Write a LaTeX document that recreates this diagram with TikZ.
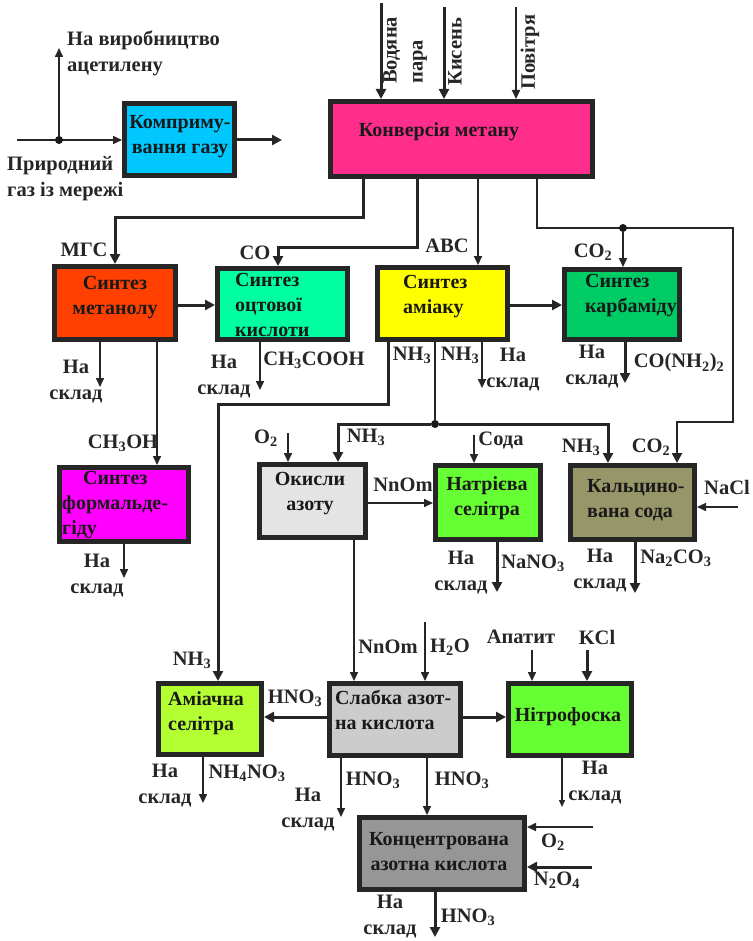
\documentclass[tikz,border=0pt]{standalone}
\usepackage{fontspec}
\setmainfont{Liberation Serif}
\usetikzlibrary{arrows.meta,fit}
\newcommand{\lsub}[1]{\textsubscript{#1}}
\definecolor{ckomp}{RGB}{0,200,255}
\definecolor{ckonv}{RGB}{255,45,140}
\definecolor{cmeth}{RGB}{255,64,0}
\definecolor{cacet}{RGB}{0,255,160}
\definecolor{camm}{RGB}{255,255,0}
\definecolor{ccarb}{RGB}{0,204,102}
\definecolor{cform}{RGB}{255,0,255}
\definecolor{cokis}{RGB}{228,228,228}
\definecolor{cnatr}{RGB}{102,255,51}
\definecolor{ckalc}{RGB}{150,150,105}
\definecolor{camsel}{RGB}{180,255,50}
\definecolor{cslab}{RGB}{204,204,204}
\definecolor{cnitro}{RGB}{102,255,51}
\definecolor{ckonc}{RGB}{150,150,150}
\begin{document}
\begin{tikzpicture}[x=1pt,y=-1pt,
 box/.style={draw=black!85, line width=5pt, inner sep=0pt},
 btxt/.style={font=\fontsize{20}{25}\selectfont\bfseries, inner sep=0pt, text=black!90},
 lbl/.style={font=\fontsize{20.5}{26}\selectfont\bfseries, inner sep=0pt, text=black!85, align=center},
 thn/.style={line width=1.6pt, draw=black!85, -{Triangle[length=9pt,width=8pt]}},
 thk/.style={line width=3pt, draw=black!85, -{Triangle[length=10pt,width=10pt]}},
 lnk/.style={line width=3pt, draw=black!85},
 dot/.style={circle, fill=black!90, inner sep=0pt, minimum size=8pt}
]
\useasboundingbox[fill=white] (0,0) rectangle (752,941);

% boxes
\node[box, fill=ckomp, fit={(124.5,103.5) (234.5,175.5)}] (komp) {};
\node[box, fill=ckonv, fit={(330.5,101.5) (592.5,176.5)}] (konv) {};
\node[box, fill=cmeth, fit={(54.5,266.5) (175.5,339.5)}] (meth) {};
\node[box, fill=cacet, fit={(217.5,268.5) (347.5,339.5)}] (acet) {};
\node[box, fill=camm, fit={(377.5,267.5) (507.5,339.5)}] (amm) {};
\node[box, fill=ccarb, fit={(564.5,269.5) (679.5,339.5)}] (carb) {};
\node[box, fill=cform, fit={(59.5,467.5) (188.5,541.5)}] (form) {};
\node[box, fill=cokis, fit={(259.5,464.5) (365.5,537.5)}] (okis) {};
\node[box, fill=cnatr, fit={(435.5,465.5) (540.5,539.5)}] (natr) {};
\node[box, fill=ckalc, fit={(570.5,465.5) (694.5,539.5)}] (kalc) {};
\node[box, fill=camsel, fit={(158.5,683.5) (261.5,754.5)}] (amsel) {};
\node[box, fill=cslab, fit={(329.5,683.5) (460.5,755.5)}] (slab) {};
\node[box, fill=cnitro, fit={(508.5,683.5) (631.5,755.5)}] (nitro) {};
\node[box, fill=ckonc, fit={(359.5,817.5) (524.5,889.5)}] (konc) {};

% box texts
\node[btxt, align=center] (tkomp) at (180,137) {Комприму-\\вання газу};
\node[btxt] (tkonv) at (439,132) {Конверсія метану};
\node[btxt, align=center] (tmeth) at (115,298) {Синтез\\метанолу};
\node[btxt, align=left, anchor=west] (tacet) at (235,305) {Синтез\\оцтової\\кислоти};
\node[btxt, align=left, anchor=west] (tamm) at (403,297) {Синтез\\аміаку};
\node[btxt, align=left, anchor=west] (tcarb) at (585,296) {Синтез\\карбаміду};
\node[btxt, align=left, anchor=west] (tform) at (62,505) {\hspace*{21pt}Синтез\\формальде-\\гіду};
\node[btxt, align=center] (tokis) at (310,494) {Окисли\\азоту};
\node[btxt, align=center] (tnatr) at (487,498) {Натрієва\\селітра};
\node[btxt, align=left, anchor=west] (tkalc) at (587,500) {Кальцино-\\вана сода};
\node[btxt, align=left, anchor=west] (tamsel) at (168,713) {Аміачна\\селітра};
\node[btxt, align=left, anchor=west] (tslab) at (335,710) {Слабка азот-\\на кислота};
\node[btxt] (tnitro) at (568,717) {Нітрофоска};
\node[btxt, align=center] (tkonc) at (439,852) {Концентрована\\азотна кислота};

% free ends
\coordinate (gin) at (17,140);
\coordinate (gbr) at (59,140);
\coordinate (gup) at (59,48);
\coordinate (kout) at (282,140);
\coordinate (inA) at (381,3);
\coordinate (inB) at (444,7);
\coordinate (inC) at (516,7);
\coordinate (s1) at (100,387);
\coordinate (s2) at (124,578);
\coordinate (s3) at (260,390);
\coordinate (s4) at (482,388);
\coordinate (s5) at (625,383);
\coordinate (o2a) at (288,433);
\coordinate (soda) at (474,435);
\coordinate (nacl) at (738,507);
\coordinate (s6) at (497,592);
\coordinate (s7) at (635,593);
\coordinate (h2o) at (425,622);
\coordinate (apat) at (532,650);
\coordinate (kcl) at (587,650);
\coordinate (s8) at (203,803);
\coordinate (s9) at (341,817);
\coordinate (s10) at (562,807);
\coordinate (o2b) at (593,827);
\coordinate (n2o4) at (592,867);
\coordinate (s11) at (435,937);

% connectors
\draw[thn] (gin) -- (komp.west |- gin);
\draw[thn] (gbr) -- (gup);
\node[dot] (dbr) at (gbr) {};
\draw[thk] (komp.east |- kout) -- (kout);
\draw[thk] (inA) -- (konv.north -| inA);
\draw[thk] (inB) -- (konv.north -| inB);
\draw[thn, line width=2pt] (inC) -- (konv.north -| inC);
\draw[thk] (konv.south -| 363,0) |- (115,218) -- (meth.north -| 115,0);
\draw[thk] (konv.south -| 417,0) |- (278,247) -- (acet.north -| 278,0);
\draw[thn, line width=2pt] (konv.south -| 478,0) -- (amm.north -| 478,0);
\draw[thk, line width=2.5pt] (konv.south -| 537,0) |- (733,228) |- (677,422) -- (kalc.north -| 677,0);
\node[dot] (dco2) at (623,228) {};
\draw[thn] (dco2) -- (carb.north -| dco2);
\draw[thk] (meth.east |- 0,305) -- (acet.west |- 0,305);
\draw[thn] (meth.south -| s1) -- (s1);
\draw[thn] (meth.south -| 157,0) -- (form.north -| 157,0);
\draw[thn] (form.south -| s2) -- (s2);
\draw[thn] (acet.south -| s3) -- (s3);
\draw[thk] (amm.south -| 388,0) |- (218,404) -- (amsel.north -| 218,0);
\node[dot] (dnh) at (435,424) {};
\draw[lnk, line width=2pt] (amm.south -| dnh) -- (dnh);
\draw[thk] (dnh) -| (okis.north -| 338,0);
\draw[thk] (dnh) -| (kalc.north -| 608,0);
\draw[thn] (amm.south -| s4) -- (s4);
\draw[thk] (amm.east |- 0,305) -- (carb.west |- 0,305);
\draw[thk] (carb.south -| s5) -- (s5);
\draw[thn] (o2a) -- (okis.north -| o2a);
\draw[thn] (soda) -- (natr.north -| soda);
\draw[thn] (okis.east |- 0,503) -- (natr.west |- 0,503);
\draw[thn] (nacl) -- (kalc.east |- nacl);
\draw[thk] (natr.south -| s6) -- (s6);
\draw[thk] (kalc.south -| s7) -- (s7);
\draw[thn] (okis.south -| 354,0) -- (slab.north -| 354,0);
\draw[thn] (h2o) -- (slab.north -| h2o);
\draw[thk] (slab.west |- 0,717) -- (amsel.east |- 0,717);
\draw[thk] (slab.east |- 0,717) -- (nitro.west |- 0,717);
\draw[thn] (apat) -- (nitro.north -| apat);
\draw[thk] (kcl) -- (nitro.north -| kcl);
\draw[thn] (amsel.south -| s8) -- (s8);
\draw[thn] (slab.south -| s9) -- (s9);
\draw[thn] (slab.south -| 427,0) -- (konc.north -| 427,0);
\draw[thn, line width=1.2pt, -{Triangle[length=7pt,width=6pt]}] (nitro.south -| s10) -- (s10);
\draw[thn] (o2b) -- (konc.east |- o2b);
\draw[thk] (n2o4) -- (konc.east |- n2o4);
\draw[thk] (konc.south -| s11) -- (s11);

% labels
\node[lbl, align=left, anchor=west] (lacet) at (67,53) {На виробництво\\ацетилену};
\node[lbl, align=left, anchor=west] (lgas) at (7,179) {Природний\\газ із мережі};
\node[lbl, rotate=90, anchor=west, align=left] (lvp) at (405,84) {Водяна\\пара};
\node[lbl, rotate=90, anchor=west] (lkis) at (455,86) {Кисень};
\node[lbl, rotate=90, anchor=west] (lpov) at (530,90) {Повітря};
\node[lbl] (lmgs) at (84,250) {МГС};
\node[lbl] (lco) at (255,253) {CO};
\node[lbl] (labc) at (447,246) {АВС};
\node[lbl] (lco2a) at (593,252) {CO\lsub{2}};
\node[lbl] (ln1) at (76,382) {На\\склад};
\node[lbl] (ln2) at (224,377) {На\\склад};
\node[lbl] (ln3) at (97,576) {На\\склад};
\node[lbl] (ln4) at (513,370) {На\\склад};
\node[lbl] (ln5) at (592,367) {На\\склад};
\node[lbl] (ln6) at (461,573) {На\\склад};
\node[lbl] (ln7) at (600,571) {На\\склад};
\node[lbl] (ln8) at (165,786) {На\\склад};
\node[lbl] (ln9) at (308,810) {На\\склад};
\node[lbl] (ln10) at (595,783) {На\\склад};
\node[lbl] (ln11) at (390,917) {На\\склад};
\node[lbl] (lch3cooh) at (314,360) {CH\lsub{3}COOH};
\node[lbl] (lch3oh) at (123,443) {CH\lsub{3}OH};
\node[lbl] (lnh3a) at (412,355) {NH\lsub{3}};
\node[lbl] (lnh3b) at (460,355) {NH\lsub{3}};
\node[lbl] (lurea) at (679,363) {CO(NH\lsub{2})\lsub{2}};
\node[lbl] (lo2a) at (266,438) {O\lsub{2}};
\node[lbl] (lnh3c) at (366,437) {NH\lsub{3}};
\node[lbl] (lsoda) at (501,440) {Сода};
\node[lbl] (lnh3d) at (581,447) {NH\lsub{3}};
\node[lbl] (lco2b) at (651,447) {CO\lsub{2}};
\node[lbl] (lnnom) at (403,485) {NnOm};
\node[lbl] (lnacl) at (727,487) {NaCl};
\node[lbl] (lnano3) at (533,563) {NaNO\lsub{3}};
\node[lbl] (lna2co3) at (676,558) {Na\lsub{2}CO\lsub{3}};
\node[lbl] (lnh3e) at (192,660) {NH\lsub{3}};
\node[lbl] (lnnom2) at (388,647) {NnOm};
\node[lbl] (lh2o) at (450,647) {H\lsub{2}O};
\node[lbl] (lapat) at (521,637) {Апатит};
\node[lbl] (lkcl) at (597,637) {KCl};
\node[lbl] (lhno3a) at (295,698) {HNO\lsub{3}};
\node[lbl] (lnh4no3) at (247,773) {NH\lsub{4}NO\lsub{3}};
\node[lbl] (lhno3b) at (373,780) {HNO\lsub{3}};
\node[lbl] (lhno3c) at (462,780) {HNO\lsub{3}};
\node[lbl] (lo2b) at (553,842) {O\lsub{2}};
\node[lbl] (ln2o4) at (557,880) {N\lsub{2}O\lsub{4}};
\node[lbl] (lhno3d) at (468,917) {HNO\lsub{3}};
\end{tikzpicture}
\end{document}
